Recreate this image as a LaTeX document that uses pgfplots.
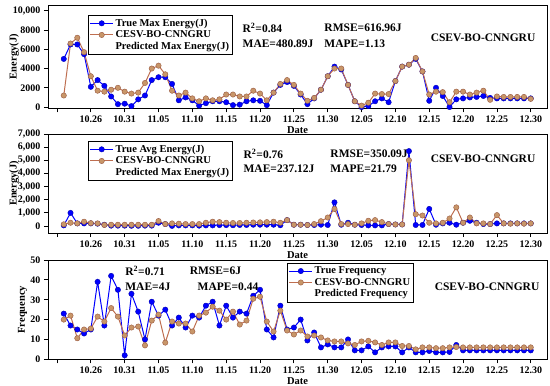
\documentclass[border=0pt]{standalone}
\usepackage{pgfplots}
\usepackage{pgfplotstable}
\pgfplotsset{compat=1.18}
\usepackage{fontspec}
\setmainfont{Liberation Serif}
\definecolor{trueblue}{RGB}{0,0,255}
\definecolor{predline}{RGB}{190,110,80}
\definecolor{predfill}{RGB}{200,150,105}

\pgfplotstableread{
d true pred
1 5000 1200
2 6500 6600
3 6500 7200
4 5500 5700
5 2100 3200
6 2800 1700
7 2200 1600
8 1100 1800
9 300 2000
10 350 1600
11 100 1400
12 800 1500
13 1200 2500
14 2800 4000
15 3100 4300
16 3100 3400
17 2400 1700
18 700 1200
19 1000 1500
20 700 900
21 150 600
22 400 900
23 600 700
24 600 800
25 500 1300
26 200 1300
27 250 1100
28 600 1100
29 700 1700
30 650 1400
31 200 700
32 1500 1500
33 2300 2400
34 2600 2800
35 2200 2300
36 1300 1400
37 300 650
38 900 950
39 1800 1800
40 3200 3200
41 4200 4000
42 3900 4000
43 2300 2300
44 600 600
45 0 150
46 100 450
47 600 1400
48 900 1350
49 500 1350
50 2700 2700
51 4200 4200
52 4400 4400
53 5000 5100
54 3700 3700
55 650 1300
56 2000 1600
57 1150 1550
58 0 500
59 800 1600
60 900 1600
61 1000 1300
62 1050 1500
63 1150 1700
64 950 750
65 900 1100
66 900 1050
67 900 1050
68 900 1050
69 900 1050
70 900 850
}\tabA

\pgfplotstableread{
d true pred
1 50 130
2 1000 250
3 200 200
4 200 330
5 200 220
6 180 200
7 100 80
8 30 100
9 30 100
10 30 100
11 20 100
12 20 100
13 30 100
14 30 100
15 250 380
16 150 150
17 10 200
18 50 180
19 50 150
20 50 150
21 30 150
22 50 250
23 50 330
24 70 300
25 70 250
26 60 230
27 80 230
28 80 250
29 100 270
30 100 280
31 100 300
32 100 330
33 60 250
34 450 450
35 100 100
36 100 100
37 80 80
38 80 150
39 100 370
40 80 650
41 1800 1300
42 100 150
43 250 150
44 100 100
45 80 200
46 50 400
47 50 450
48 50 300
49 150 150
50 120 120
51 120 120
52 5700 5000
53 80 900
54 80 800
55 1300 250
56 100 200
57 200 250
58 250 570
59 100 1420
60 250 250
61 400 650
62 250 200
63 150 200
64 150 150
65 200 830
66 200 200
67 200 180
68 200 200
69 200 180
70 200 200
}\tabB

\pgfplotstableread{
d true pred
1 23 20
2 17 22
3 15 10.6
4 13 15
5 15 15.5
6 39 21.5
7 17 19
8 42 25.8
9 35 21.5
10 2 12
11 33 16
12 24 16.5
13 10 7
14 29 19.5
15 22 22.5
16 25 8.4
17 17 19
18 21 18
19 16 18
20 22 14
21 21 22
22 27 23.5
23 29 26.5
24 17 24.5
25 27 20
26 21 24
27 24 17.5
28 23 19.5
29 32 30.5
30 35 31.5
31 15 19
32 11 14
33 27 24.5
34 15 14.5
35 16 12.5
36 20 14.5
37 9.5 11.5
38 13.5 12
39 6 11
40 7.5 9.5
41 6 9
42 6 9
43 10 8
44 4.5 7.2
45 4.5 9
46 6.5 9.3
47 3.5 8.5
48 6 7.2
49 6.5 8.5
50 6.5 8.5
51 3.5 6.7
52 6 6.7
53 3.5 5
54 3.5 6
55 4.2 6
56 3.5 5.6
57 3.5 5.6
58 3.7 6
59 7.2 6.2
60 4.5 6
61 4.5 6
62 4.5 6
63 4.5 6
64 4.5 6
65 4.5 6
66 4.5 6
67 4.5 6
68 4.5 6
69 4.5 6
70 4.5 6
}\tabC

\tikzset{ann/.style={anchor=west, font=\bfseries\fontsize{11.5}{13}\selectfont}}
\pgfplotsset{
 panel/.style={
  scale only axis, width=499pt,
  xmin=-1.33, xmax=72.4,
  xtick={0,5,...,70},
  xticklabels={,10.26,10.31,11.05,11.10,11.15,11.20,11.25,11.30,12.05,12.10,12.15,12.20,12.25,12.30},
  scaled y ticks=false,
  tick align=outside, tick pos=left,
  major tick length=4pt,
  axis line style={line width=0.9pt},
  every tick/.style={black, line width=0.8pt},
  ticklabel style={font=\bfseries\fontsize{10}{12}\selectfont},
  /pgf/number format/assume math mode=true,
  xlabel={Date},
  xlabel style={yshift=3pt},
  label style={font=\bfseries\fontsize{10.5}{12}\selectfont},
  legend cell align=left,
  legend style={draw=black, line width=0.8pt, font=\bfseries\fontsize{10.5}{12.5}\selectfont, anchor=north west, inner sep=1.5pt, row sep=-1pt},
  legend image code/.code={\draw[mark repeat=2,mark phase=2] plot coordinates {(0cm,0cm) (0.4cm,0cm) (0.8cm,0cm)};},
 },
 trueS/.style={color=trueblue, line width=1pt, mark=*, mark size=2.7pt, mark options={fill=trueblue, draw=blue!70!black, line width=0.4pt, solid}},
 predS/.style={color=predline, line width=1pt, mark=*, mark size=2.7pt, mark options={fill=predfill, draw=predline!80!black, line width=0.4pt, solid}},
}

\begin{document}
\begin{tikzpicture}
\useasboundingbox (0,1pt) rectangle (550pt,-385pt);
% Panel 1
\begin{axis}[panel, at={(48pt,-107.3pt)}, anchor=south west,
  height=103.3pt, ymin=-130, ymax=10600,
  ytick={0,2000,4000,6000,8000,10000},
  yticklabels={0,2000,4000,6000,8000,{10,000}},
  ylabel={Energy(J)},
  ylabel style={at={(axis description cs:-0.068,0.5)}, anchor=center},
  legend style={at={(axis description cs:0.080,0.903)}},
]
\addplot[trueS] table[x=d,y=true]{\tabA};
\addlegendentry{True Max Energy(J)}
\addplot[predS] table[x=d,y=pred]{\tabA};
\addlegendentry{CESV-BO-CNNGRU}
\addlegendimage{empty legend}
\addlegendentry{Predicted Max Energy(J)}
\node[ann] at (axis description cs:0.383,0.777) {R\textsuperscript{2}=0.84};
\node[ann] at (axis description cs:0.383,0.622) {MAE=480.89J};
\node[ann] at (axis description cs:0.547,0.777) {RMSE=616.96J};
\node[ann] at (axis description cs:0.547,0.622) {MAPE=1.13};
\node[ann] at (axis description cs:0.760,0.68) {CSEV-BO-CNNGRU};
\end{axis}
% Panel 2
\begin{axis}[panel, at={(48pt,-232pt)}, anchor=south west,
  height=99pt, ymin=-530, ymax=7000,
  ytick={0,1000,...,7000},
  ylabel={Energy(J)},
  ylabel style={at={(axis description cs:-0.068,0.5)}, anchor=center},
  legend style={at={(axis description cs:0.080,0.929)}},
]
\addplot[trueS] table[x=d,y=true]{\tabB};
\addlegendentry{True Avg Energy(J)}
\addplot[predS] table[x=d,y=pred]{\tabB};
\addlegendentry{CESV-BO-CNNGRU}
\addlegendimage{empty legend}
\addlegendentry{Predicted Max Energy(J)}
\node[ann] at (axis description cs:0.385,0.798) {R\textsuperscript{2}=0.76};
\node[ann] at (axis description cs:0.385,0.646) {MAE=237.12J};
\node[ann] at (axis description cs:0.559,0.798) {RMSE=350.09J};
\node[ann] at (axis description cs:0.559,0.646) {MAPE=21.79};
\node[ann] at (axis description cs:0.760,0.747) {CSEV-BO-CNNGRU};
\end{axis}
% Panel 3
\begin{axis}[panel, at={(48pt,-358.3pt)}, anchor=south west,
  height=99.3pt, ymin=0, ymax=50,
  ytick={0,10,...,50},
  ylabel={Frequency},
  ylabel style={at={(axis description cs:-0.051,0.5)}, anchor=center},
  legend style={at={(axis description cs:0.479,0.97)}},
]
\addplot[trueS] table[x=d,y=true]{\tabC};
\addlegendentry{True Frequency}
\addplot[predS] table[x=d,y=pred]{\tabC};
\addlegendentry{CESV-BO-CNNGRU}
\addlegendimage{empty legend}
\addlegendentry{Predicted Frequency}
\node[ann] at (axis description cs:0.148,0.889) {R\textsuperscript{2}=0.71};
\node[ann] at (axis description cs:0.148,0.728) {MAE=4J};
\node[ann] at (axis description cs:0.277,0.889) {RMSE=6J};
\node[ann] at (axis description cs:0.293,0.728) {MAPE=0.44};
\node[ann] at (axis description cs:0.768,0.728) {CSEV-BO-CNNGRU};
\end{axis}
\end{tikzpicture}
\end{document}
